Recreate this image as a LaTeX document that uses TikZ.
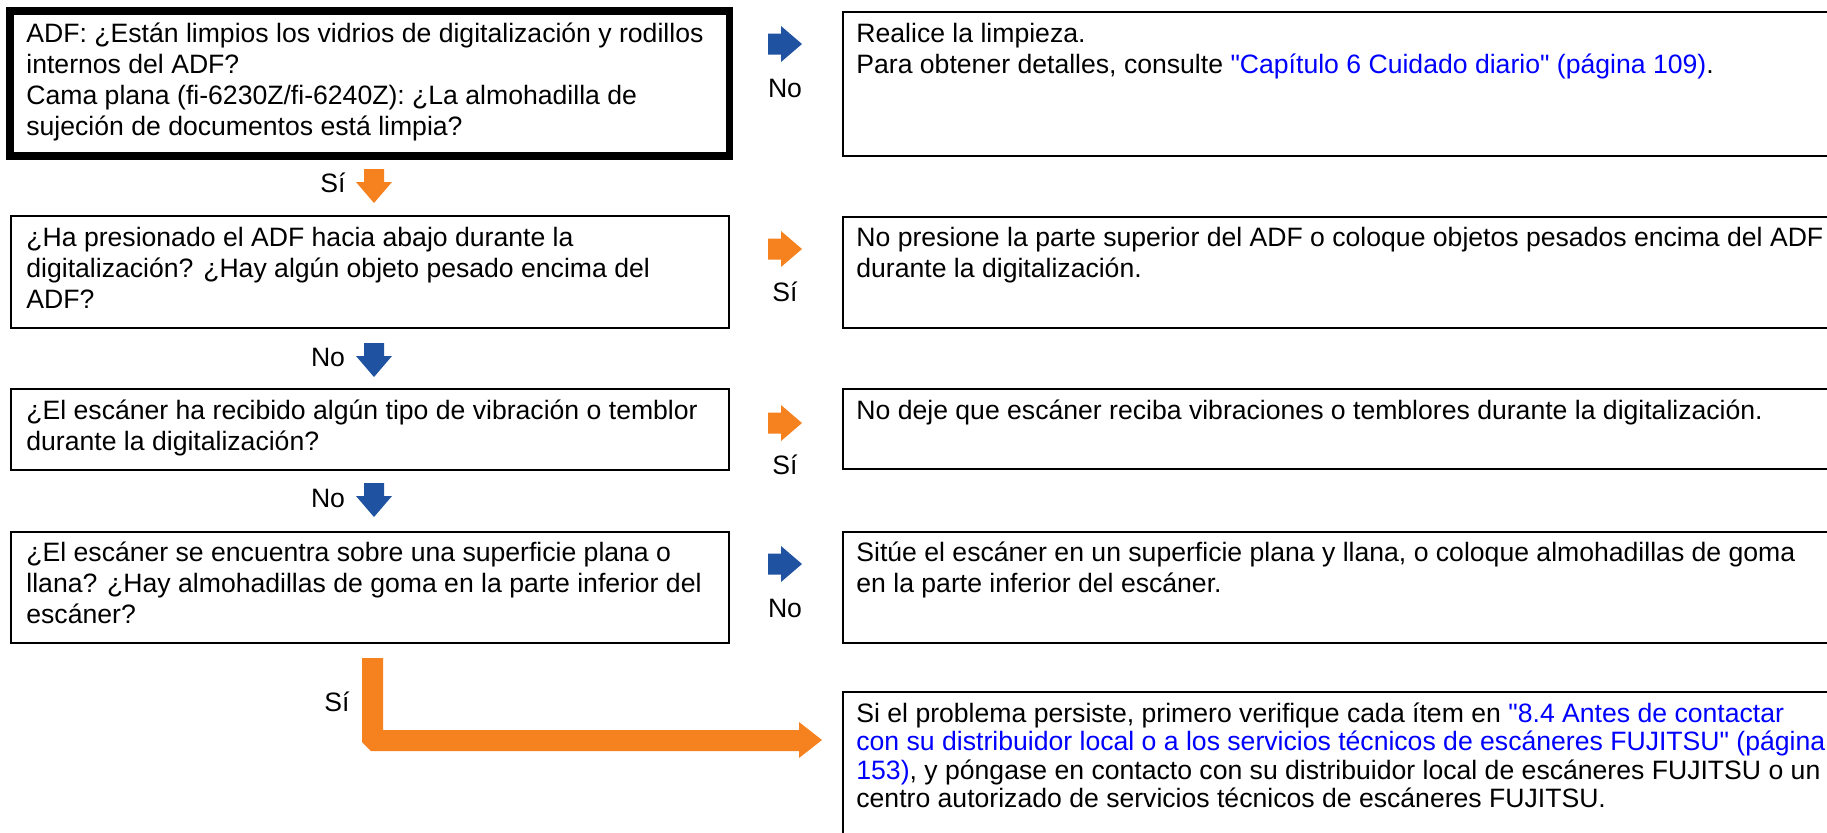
\documentclass[tikz,border=0pt]{standalone}
\usepackage{fontspec}
\setmainfont{Liberation Sans}
\usetikzlibrary{fit}
\definecolor{orng}{RGB}{246,130,31}
\definecolor{dblue}{RGB}{31,82,160}
\definecolor{lnk}{RGB}{0,0,255}
\newcommand\fs{\fontsize{13.3pt}{15.5pt}\selectfont}
\newcommand\fsr{\fontsize{13.3pt}{14.25pt}\selectfont}
\newcommand\fst{\rule{0pt}{13pt}}
\newcommand\lk[1]{\textcolor{lnk}{#1}}
\newcommand\qd{\textquotedbl}
\tikzset{
  rarr/.pic={\fill[pic actions] (-17,-10.5) -- (-4,-10.5) -- (-4,-18) -- (17,0) -- (-4,18) -- (-4,10.5) -- (-17,10.5) -- cycle;},
  darr/.pic={\fill[pic actions] (-10,-17) -- (10,-17) -- (10,-4) -- (18,-4) -- (0,17) -- (-18,-4) -- (-10,-4) -- cycle;}
}
\begin{document}
\begin{tikzpicture}[x=0.5pt,y=-0.5pt,
  qbox/.style={draw=black,line width=1.1pt,inner sep=0pt},
  hbox/.style={draw=black,line width=3.75pt,inner sep=0pt},
  txt/.style={anchor=north west,inner sep=0pt,align=left,font=\fs},
  txtr/.style={anchor=north west,inner sep=0pt,align=left,font=\fsr},
  lbl/.style={inner sep=0pt,font=\fs}]
\useasboundingbox (0,0) rectangle (1827,832);
\fill[white] (0,0) rectangle (1827,832);
\clip (0,0) rectangle (1827,832);
% left column
\node[hbox,fit={(9.75,10.75) (729.25,156)}] (q1) {};
\node[qbox,fit={(11,216) (729,328)}] (q2) {};
\node[qbox,fit={(11,389) (729,470)}] (q3) {};
\node[qbox,fit={(11,532) (729,643)}] (q4) {};
% right column
\node[qbox,fit={(843,12) (1840,156)}] (a1) {};
\node[qbox,fit={(843,217) (1840,328)}] (a2) {};
\node[qbox,fit={(843,389) (1840,469)}] (a3) {};
\node[qbox,fit={(843,532) (1840,643)}] (a4) {};
\node[qbox,fit={(843,692) (1840,850)}] (a5) {};
% texts
\node[txt] (t1) at (26,16) {\fst ADF: ¿Están limpios los vidrios de digitalización y rodillos\\internos del ADF?\\Cama plana (fi-6230Z/fi-6240Z): ¿La almohadilla de\\sujeción de documentos está limpia?};
\node[txt] (t2) at (26,220) {\fst ¿Ha presionado el ADF hacia abajo durante la\\digitalización? ¿Hay algún objeto pesado encima del\\ADF?};
\node[txt] (t3) at (26,393) {\fst ¿El escáner ha recibido algún tipo de vibración o temblor\\durante la digitalización?};
\node[txt] (t4) at (26,535) {\fst ¿El escáner se encuentra sobre una superficie plana o\\llana? ¿Hay almohadillas de goma en la parte inferior del\\escáner?};
\node[txt] (s1) at (856,16) {\fst Realice la limpieza.\\Para obtener detalles, consulte \lk{\qd Capítulo 6 Cuidado diario\qd\ (página 109)}.};
\node[txt] (s2) at (856,220) {\fst No presione la parte superior del ADF o coloque objetos pesados encima del ADF\\durante la digitalización.};
\node[txt] (s3) at (856,393) {\fst No deje que escáner reciba vibraciones o temblores durante la digitalización.};
\node[txt] (s4) at (856,535) {\fst Sitúe el escáner en un superficie plana y llana, o coloque almohadillas de goma\\en la parte inferior del escáner.};
\node[txtr] (s5) at (856,696) {\fst Si el problema persiste, primero verifique cada ítem en \lk{\qd 8.4 Antes de contactar}\\\lk{con su distribuidor local o a los servicios técnicos de escáneres FUJITSU\qd\ (página}\\\lk{153)}, y póngase en contacto con su distribuidor local de escáneres FUJITSU o un\\centro autorizado de servicios técnicos de escáneres FUJITSU.};
% horizontal block arrows
\pic[fill=dblue] at (785,44) {rarr};
\pic[fill=orng] at (785,249) {rarr};
\pic[fill=orng] at (785,423) {rarr};
\pic[fill=dblue] at (785,564) {rarr};
\node[lbl] (l1) at (785,88) {No};
\node[lbl] (l2) at (785,292) {Sí};
\node[lbl] (l3) at (785,465) {Sí};
\node[lbl] (l4) at (785,608) {No};
% vertical block arrows
\pic[fill=orng] at (374,186) {darr};
\pic[fill=dblue] at (374,360) {darr};
\pic[fill=dblue] at (374,500) {darr};
\node[lbl] (d1) at (333,183) {Sí};
\node[lbl] (d2) at (328,357) {No};
\node[lbl] (d3) at (328,498) {No};
% elbow arrow
\fill[orng] (362,658) -- (383,658) -- (383,730) -- (799,730) -- (799,722) -- (822,740) -- (799,758) -- (799,751) -- (371,751) -- (362,742) -- cycle;
\node[lbl] (d4) at (337,702) {Sí};
\end{tikzpicture}
\end{document}
